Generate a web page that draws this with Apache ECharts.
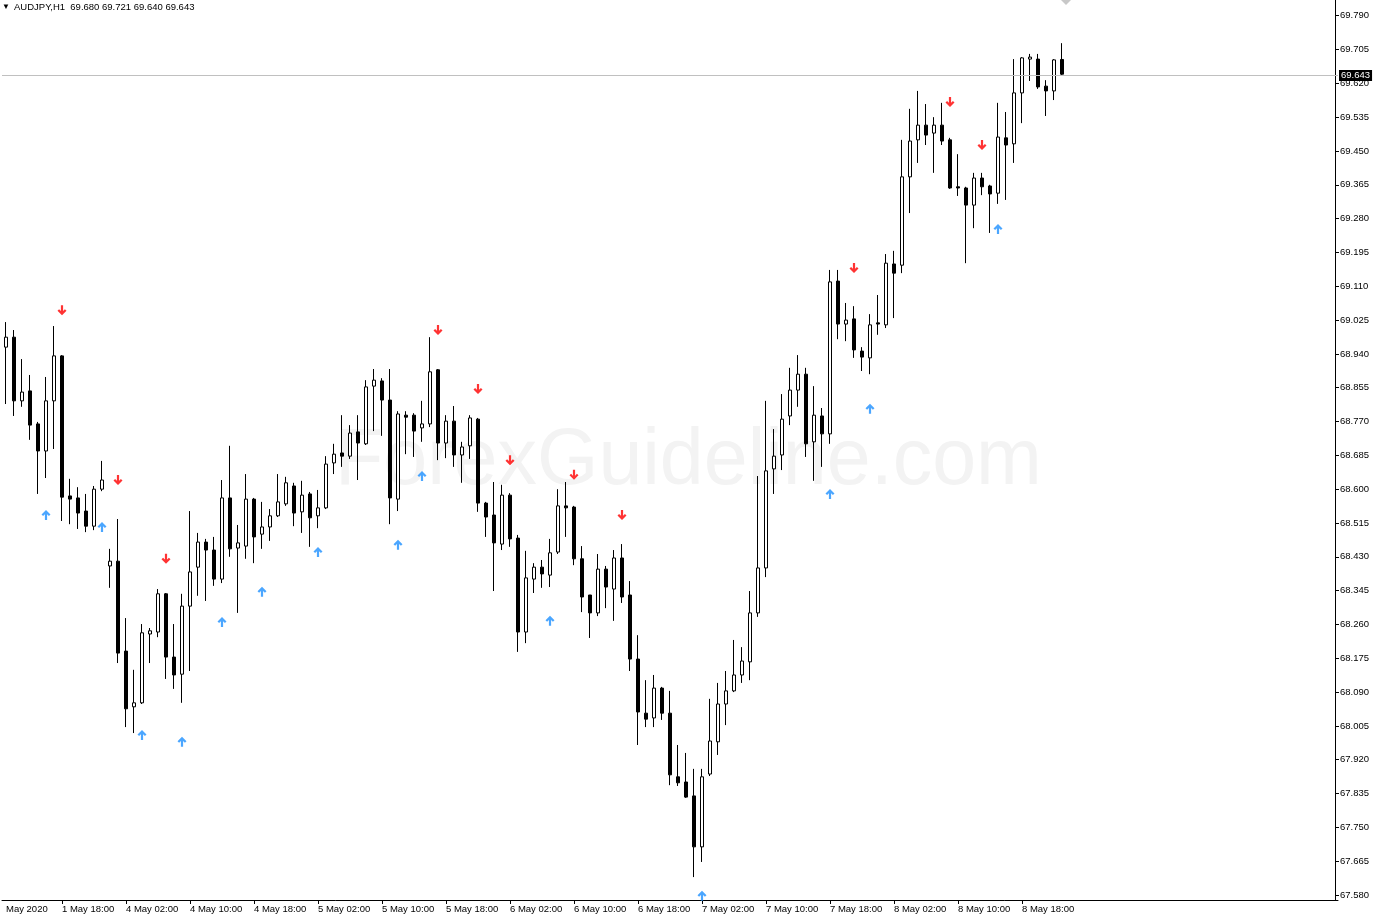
<!DOCTYPE html>
<html><head><meta charset="utf-8">
<script src="https://cdn.jsdelivr.net/npm/echarts@6/dist/echarts.min.js"></script>
<style>html,body{margin:0;padding:0;background:#fff}#chart{width:1376px;height:918px}</style>
</head><body><div id="chart"></div>
<script>
const symbolName = 'AUDJPY,H1';
const openPrices = [68.957,68.982,68.822,68.847,68.764,68.696,68.822,68.935,68.583,68.578,68.545,68.507,68.600,68.407,68.419,68.193,68.053,68.063,68.236,68.241,68.337,68.178,68.135,68.306,68.404,68.467,68.447,68.374,68.578,68.452,68.457,68.575,68.487,68.505,68.533,68.563,68.608,68.543,68.588,68.533,68.553,68.666,68.691,68.683,68.744,68.714,68.859,68.872,68.824,68.575,68.786,68.786,68.754,68.764,68.900,68.716,68.771,68.686,68.709,68.776,68.565,68.535,68.462,68.585,68.477,68.241,68.374,68.404,68.384,68.442,68.558,68.555,68.425,68.334,68.289,68.399,68.349,68.427,68.334,68.173,68.037,68.025,68.100,68.037,67.877,67.864,67.829,67.701,67.884,67.965,68.060,68.093,68.133,68.166,68.289,68.402,68.651,68.686,68.784,68.849,68.889,68.719,68.784,68.739,69.123,69.015,69.028,68.947,68.930,69.018,69.013,69.166,69.163,69.385,69.478,69.515,69.495,69.515,69.478,69.360,69.357,69.314,69.382,69.362,69.344,69.483,69.468,69.596,69.681,69.681,69.613,69.601,69.680];
const closePrices = [68.982,68.822,68.844,68.761,68.696,68.822,68.935,68.580,68.575,68.540,68.507,68.600,68.623,68.419,68.188,68.048,68.063,68.239,68.244,68.337,68.178,68.133,68.306,68.392,68.467,68.447,68.374,68.578,68.450,68.465,68.575,68.480,68.505,68.533,68.568,68.616,68.540,68.585,68.528,68.553,68.663,68.688,68.683,68.741,68.716,68.857,68.874,68.824,68.578,68.789,68.781,68.746,68.764,68.895,68.716,68.771,68.686,68.706,68.779,68.565,68.530,68.465,68.585,68.475,68.241,68.377,68.404,68.387,68.440,68.558,68.553,68.425,68.329,68.289,68.399,68.354,68.427,68.329,68.173,68.040,68.022,68.100,68.037,67.882,67.862,67.826,67.701,67.877,67.967,68.060,68.093,68.133,68.168,68.289,68.402,68.646,68.683,68.776,68.849,68.889,68.714,68.786,68.739,69.121,69.015,69.025,68.950,68.932,69.013,69.015,69.168,69.143,69.385,69.475,69.515,69.490,69.515,69.475,69.357,69.357,69.314,69.382,69.360,69.342,69.485,69.465,69.596,69.684,69.686,69.611,69.601,69.679,69.643];
const highPrices = [69.020,69.000,68.927,68.887,68.769,68.882,69.010,68.937,68.626,68.605,68.588,68.608,68.671,68.450,68.525,68.276,68.146,68.261,68.251,68.349,68.339,68.261,68.337,68.545,68.490,68.475,68.480,68.623,68.709,68.510,68.638,68.578,68.568,68.550,68.638,68.631,68.616,68.621,68.593,68.598,68.683,68.714,68.786,68.761,68.786,68.874,68.902,68.879,68.902,68.796,68.796,68.791,68.822,68.982,68.902,68.786,68.809,68.719,68.786,68.779,68.568,68.618,68.611,68.590,68.485,68.445,68.414,68.422,68.475,68.600,68.618,68.558,68.457,68.334,68.437,68.407,68.447,68.462,68.369,68.233,68.120,68.133,68.103,68.093,67.957,67.937,67.897,67.897,68.073,68.113,68.143,68.221,68.203,68.344,68.633,68.822,68.751,68.839,68.905,68.937,68.905,68.859,68.804,69.151,69.151,69.068,69.060,68.957,69.040,69.088,69.191,69.199,69.478,69.556,69.601,69.568,69.535,69.571,69.483,69.442,69.360,69.395,69.395,69.365,69.571,69.548,69.681,69.686,69.694,69.694,69.628,69.681,69.721];
const lowPrices = [68.814,68.784,68.807,68.724,68.588,68.628,68.701,68.520,68.512,68.500,68.492,68.497,68.595,68.352,68.163,68.002,67.987,68.060,68.163,68.228,68.123,68.098,68.063,68.143,68.332,68.319,68.357,68.364,68.430,68.289,68.425,68.414,68.450,68.470,68.530,68.558,68.507,68.490,68.455,68.502,68.550,68.638,68.656,68.676,68.623,68.711,68.746,68.734,68.512,68.545,68.688,68.681,68.719,68.756,68.673,68.678,68.656,68.616,68.676,68.543,68.480,68.344,68.447,68.455,68.191,68.213,68.339,68.352,68.354,68.437,68.480,68.409,68.291,68.226,68.281,68.301,68.269,68.314,68.143,67.957,68.002,68.002,68.020,67.856,67.854,67.824,67.625,67.663,67.879,67.932,68.007,68.090,68.113,68.120,68.279,68.379,68.588,68.648,68.761,68.807,68.681,68.621,68.656,68.714,68.977,68.972,68.930,68.897,68.889,68.988,69.005,69.030,69.143,69.294,69.420,69.465,69.395,69.465,69.355,69.337,69.168,69.256,69.339,69.244,69.317,69.327,69.420,69.520,69.626,69.606,69.538,69.578,69.640];
const buyArrows = [[5,68.535],[12,68.505],[17,67.982],[22,67.965],[27,68.266],[32,68.342],[39,68.442],[49,68.460],[52,68.633],[68,68.269],[87,67.578],[103,68.588],[108,68.802],[124,69.254]];
const sellArrows = [[7,69.050],[14,68.623],[20,68.425],[54,69.000],[59,68.852],[63,68.673],[71,68.636],[77,68.535],[106,69.156],[118,69.573],[122,69.465]];
const yTickValues = [67.580,67.665,67.750,67.835,67.920,68.005,68.090,68.175,68.260,68.345,68.430,68.515,68.600,68.685,68.770,68.855,68.940,69.025,69.110,69.195,69.280,69.365,69.450,69.535,69.620,69.705,69.790];
const xTickLabels = [[0,'May 2020'],[7,'1 May 18:00'],[15,'4 May 02:00'],[23,'4 May 10:00'],[31,'4 May 18:00'],[39,'5 May 02:00'],[47,'5 May 10:00'],[55,'5 May 18:00'],[63,'6 May 02:00'],[71,'6 May 10:00'],[79,'6 May 18:00'],[87,'7 May 02:00'],[95,'7 May 10:00'],[103,'7 May 18:00'],[111,'8 May 02:00'],[119,'8 May 10:00'],[127,'8 May 18:00']];

const Y_MIN = 67.5674, Y_MAX = 69.8295;
const SLOTS = 167;
const FONT = '"Liberation Sans", Arial, sans-serif';

// hourly bar times: 1 May 11:00 .. 1 May 23:00, then 4 May 00:00 onwards
const categories = [];
for (let i = 0; i < SLOTS; i++) {
  let d, h;
  if (i <= 12) { d = 1; h = 11 + i; } else { const k = i - 13; d = 4 + Math.floor(k / 24); h = k % 24; }
  categories.push(d + ' May ' + String(h).padStart(2, '0') + ':00');
}
const labelMap = new Map(xTickLabels);
const candleData = openPrices.map((o, i) => [o, closePrices[i], lowPrices[i], highPrices[i]]);
const last = openPrices.length - 1;
const header = symbolName + '  ' + [openPrices[last], highPrices[last], lowPrices[last], closePrices[last]].map(v => v.toFixed(3)).join(' ');
const currentPrice = closePrices[last];

const upPath = 'path://M4.5,0 L9,4.5 L7.4,6 L5.6,4.2 L5.6,10 L3.4,10 L3.4,4.2 L1.6,6 L0,4.5 Z';
const downPath = 'path://M4.5,10 L9,5.5 L7.4,4 L5.6,5.8 L5.6,0 L3.4,0 L3.4,5.8 L1.6,4 L0,5.5 Z';

const chart = echarts.init(document.getElementById('chart'), null, {renderer: 'canvas'});
chart.setOption({
  animation: false,
  backgroundColor: '#ffffff',
  textStyle: {fontFamily: FONT},
  title: {
    left: 2, top: 0, padding: [2, 0, 0, 0],
    text: '{tri|▼}' + header,
    textStyle: {fontSize: 9.5, fontWeight: 'normal', color: '#000', fontFamily: FONT,
      rich: {tri: {fontSize: 8, width: 12, color: '#000'}}}
  },
  graphic: [
    {type: 'text', z: -10, silent: true, left: 335, top: 423,
      style: {text: 'ForexGuideline.com', font: '79px "Liberation Sans", Arial, sans-serif', fill: '#f3f3f3'}},
    {type: 'polygon', silent: true, shape: {points: [[1061, 0], [1066, 5], [1071, 0]]}, style: {fill: '#c8c8c8'}}
  ],
  grid: {left: 2, top: 0, width: SLOTS * 8, height: 900, containLabel: false},
  xAxis: {
    type: 'category', data: categories, boundaryGap: true,
    axisLine: {show: true, lineStyle: {color: '#000', width: 1}},
    axisTick: {show: true, alignWithLabel: true, length: 4, lineStyle: {color: '#000'},
      interval: (i) => labelMap.has(i) && i !== 0},
    axisLabel: {show: true, interval: (i) => labelMap.has(i), formatter: (v, i) => labelMap.get(i) || '',
      align: 'left', margin: 4, color: '#000', fontSize: 9.5, fontFamily: FONT},
    splitLine: {show: false}
  },
  yAxis: {
    type: 'value', position: 'right', offset: -3, min: Y_MIN, max: Y_MAX, scale: true,
    axisLine: {show: true, lineStyle: {color: '#000', width: 1}},
    axisTick: {show: true, length: 4, customValues: yTickValues, lineStyle: {color: '#000'}},
    axisLabel: {show: true, customValues: yTickValues, formatter: (v) => v.toFixed(3), margin: 5,
      color: '#000', fontSize: 9.5, fontFamily: FONT},
    splitLine: {show: false}
  },
  series: [
    {
      type: 'candlestick', name: symbolName, data: candleData, barWidth: 4,
      itemStyle: {color: '#ffffff', color0: '#000000', borderColor: '#000000', borderColor0: '#000000', borderWidth: 1},
      markLine: {
        silent: true, animation: false, symbol: ['none', 'none'],
        lineStyle: {color: '#c0c0c0', width: 1, type: 'solid'},
        label: {show: true, position: 'end', distance: 1, formatter: () => currentPrice.toFixed(3),
          color: '#fff', backgroundColor: '#000', padding: [1, 2, 0, 2], fontSize: 9.5, fontFamily: FONT},
        data: [{yAxis: currentPrice}]
      }
    },
    {type: 'scatter', name: 'buy', data: buyArrows, symbol: upPath, symbolSize: [9, 10],
      itemStyle: {color: '#1e90ff'}, clip: false, z: 3},
    {type: 'scatter', name: 'sell', data: sellArrows, symbol: downPath, symbolSize: [9, 10],
      itemStyle: {color: '#ff0000'}, clip: false, z: 3}
  ]
});
</script>
</body></html>
